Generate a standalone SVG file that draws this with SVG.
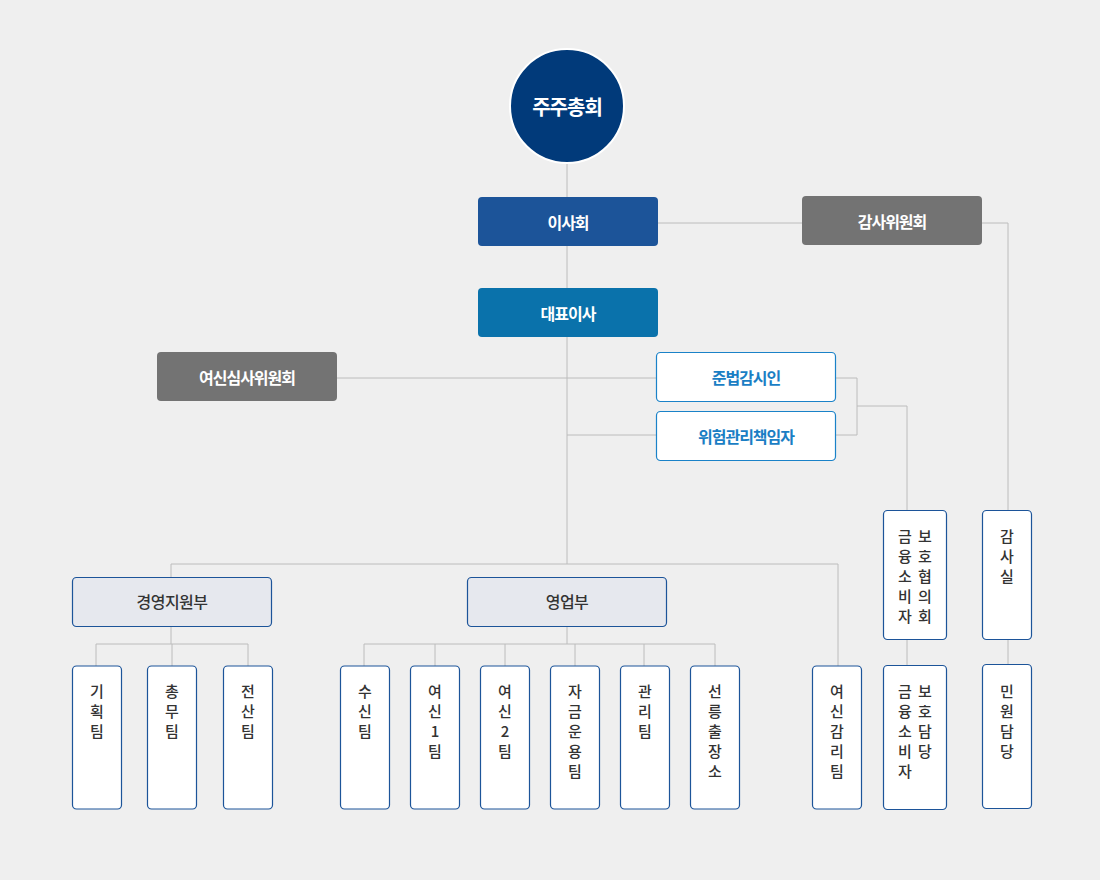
<svg xmlns="http://www.w3.org/2000/svg" width="1100" height="880" viewBox="0 0 1100 880">
<style>
.ln{stroke:#bcbcbc;stroke-width:1;fill:none}
.t{font-family:"Noto Sans CJK KR","Noto Sans",sans-serif;text-anchor:middle;dominant-baseline:central}
.wh{fill:#fff;font-weight:bold;font-size:16px;letter-spacing:-1px}
.bl{fill:#1a7ec4;font-weight:bold;font-size:16px;letter-spacing:-1px}
.dp{fill:#333;font-weight:500;font-size:16px;letter-spacing:-0.5px}
.v{fill:#333;font-weight:500;font-size:15px}
.box{fill:#fff;stroke:#1c5499;stroke-width:1.2}
.dept{fill:#e6e8ee;stroke:#1c5499;stroke-width:1.2}
.cmp{fill:#fff;stroke:#1a82c8;stroke-width:1.2}
</style>
<rect width="1100" height="880" fill="#efefef"/>
<g id="connectors">
<path class="ln" d="M567 163V197M567 246V288M567 337V564M171 564H838M171 564V577M838 564V666"/>
<path class="ln" d="M658 223H802M982 223H1008V510"/>
<path class="ln" d="M337 378H656M567 435H656"/>
<path class="ln" d="M835 378H857V435H835M857 406H907V510"/>
<path class="ln" d="M907 639V665M1008 639V664"/>
<path class="ln" d="M171 626V644M96 644H248M96 644V666M172 644V666M248 644V666"/>
<path class="ln" d="M567 626V644M364 644H715M364 644V666M435 644V666M505 644V666M575 644V666M644 644V666M715 644V666"/>
</g>
<g id="n-shareholders">
<circle cx="567" cy="106" r="57" fill="#013a7a" stroke="#fff" stroke-width="2"/>
<text class="t" x="567" y="106" fill="#fff" font-weight="bold" font-size="20" letter-spacing="-1">주주총회</text>
</g>
<g id="n-board"><rect x="478" y="197" width="180" height="49" rx="4" fill="#1c5499"/><text class="t wh" x="568" y="221.5">이사회</text></g>
<g id="n-audit-committee"><rect x="802" y="196" width="180" height="49" rx="4" fill="#737373"/><text class="t wh" x="892" y="220.5">감사위원회</text></g>
<g id="n-ceo"><rect x="478" y="288" width="180" height="49" rx="4" fill="#0a72ab"/><text class="t wh" x="568" y="312.5">대표이사</text></g>
<g id="n-credit-committee"><rect x="157" y="352" width="180" height="49" rx="4" fill="#737373"/><text class="t wh" x="247" y="376.5">여신심사위원회</text></g>
<g id="n-compliance"><rect class="cmp" x="656.5" y="352.5" width="179" height="49" rx="4"/><text class="t bl" x="746" y="377">준법감시인</text></g>
<g id="n-risk"><rect class="cmp" x="656.5" y="411.5" width="179" height="49" rx="4"/><text class="t bl" x="746" y="436">위험관리책임자</text></g>
<g id="n-mgmt"><rect class="dept" x="72.5" y="577.5" width="199" height="49" rx="4"/><text class="t dp" x="172" y="601">경영지원부</text></g>
<g id="n-sales"><rect class="dept" x="467.5" y="577.5" width="199" height="49" rx="4"/><text class="t dp" x="567" y="601">영업부</text></g>
<g id="n-plan"><rect class="box" x="72.5" y="666" width="49" height="143" rx="4"/><text class="t v" x="97"><tspan x="97" y="690">기</tspan><tspan x="97" y="710">획</tspan><tspan x="97" y="730">팀</tspan></text></g>
<g id="n-general"><rect class="box" x="147.5" y="666" width="49" height="143" rx="4"/><text class="t v" x="172"><tspan x="172" y="690">총</tspan><tspan x="172" y="710">무</tspan><tspan x="172" y="730">팀</tspan></text></g>
<g id="n-it"><rect class="box" x="223.5" y="666" width="49" height="143" rx="4"/><text class="t v" x="248"><tspan x="248" y="690">전</tspan><tspan x="248" y="710">산</tspan><tspan x="248" y="730">팀</tspan></text></g>
<g id="n-deposit"><rect class="box" x="340.5" y="666" width="49" height="143" rx="4"/><text class="t v"><tspan x="365" y="690">수</tspan><tspan x="365" y="710">신</tspan><tspan x="365" y="730">팀</tspan></text></g>
<g id="n-loan1"><rect class="box" x="410.5" y="666" width="49" height="143" rx="4"/><text class="t v"><tspan x="435" y="690">여</tspan><tspan x="435" y="710">신</tspan><tspan x="435" y="730">1</tspan><tspan x="435" y="750">팀</tspan></text></g>
<g id="n-loan2"><rect class="box" x="480.5" y="666" width="49" height="143" rx="4"/><text class="t v"><tspan x="505" y="690">여</tspan><tspan x="505" y="710">신</tspan><tspan x="505" y="730">2</tspan><tspan x="505" y="750">팀</tspan></text></g>
<g id="n-fund"><rect class="box" x="550.5" y="666" width="49" height="143" rx="4"/><text class="t v"><tspan x="575" y="690">자</tspan><tspan x="575" y="710">금</tspan><tspan x="575" y="730">운</tspan><tspan x="575" y="750">용</tspan><tspan x="575" y="770">팀</tspan></text></g>
<g id="n-admin"><rect class="box" x="620.5" y="666" width="49" height="143" rx="4"/><text class="t v"><tspan x="645" y="690">관</tspan><tspan x="645" y="710">리</tspan><tspan x="645" y="730">팀</tspan></text></g>
<g id="n-branch"><rect class="box" x="690.5" y="666" width="49" height="143" rx="4"/><text class="t v"><tspan x="715" y="690">선</tspan><tspan x="715" y="710">릉</tspan><tspan x="715" y="730">출</tspan><tspan x="715" y="750">장</tspan><tspan x="715" y="770">소</tspan></text></g>
<g id="n-loanreview"><rect class="box" x="812.5" y="666" width="49" height="143" rx="4"/><text class="t v"><tspan x="837" y="690">여</tspan><tspan x="837" y="710">신</tspan><tspan x="837" y="730">감</tspan><tspan x="837" y="750">리</tspan><tspan x="837" y="770">팀</tspan></text></g>
<g id="n-consumer-council"><rect class="box" x="883.5" y="510.5" width="63" height="129" rx="4"/><text class="t v"><tspan x="905" y="535">금</tspan><tspan x="905" y="555">융</tspan><tspan x="905" y="575">소</tspan><tspan x="905" y="595">비</tspan><tspan x="905" y="615">자</tspan><tspan x="925" y="535">보</tspan><tspan x="925" y="555">호</tspan><tspan x="925" y="575">협</tspan><tspan x="925" y="595">의</tspan><tspan x="925" y="615">회</tspan></text></g>
<g id="n-audit-office"><rect class="box" x="982.5" y="510.5" width="49" height="129" rx="4"/><text class="t v"><tspan x="1007" y="535">감</tspan><tspan x="1007" y="555">사</tspan><tspan x="1007" y="575">실</tspan></text></g>
<g id="n-consumer-officer"><rect class="box" x="883.5" y="665.5" width="63" height="144" rx="4"/><text class="t v"><tspan x="905" y="690">금</tspan><tspan x="905" y="710">융</tspan><tspan x="905" y="730">소</tspan><tspan x="905" y="750">비</tspan><tspan x="905" y="770">자</tspan><tspan x="925" y="690">보</tspan><tspan x="925" y="710">호</tspan><tspan x="925" y="730">담</tspan><tspan x="925" y="750">당</tspan></text></g>
<g id="n-complaints"><rect class="box" x="982.5" y="664.5" width="49" height="144" rx="4"/><text class="t v"><tspan x="1007" y="690">민</tspan><tspan x="1007" y="710">원</tspan><tspan x="1007" y="730">담</tspan><tspan x="1007" y="750">당</tspan></text></g>
</svg>
